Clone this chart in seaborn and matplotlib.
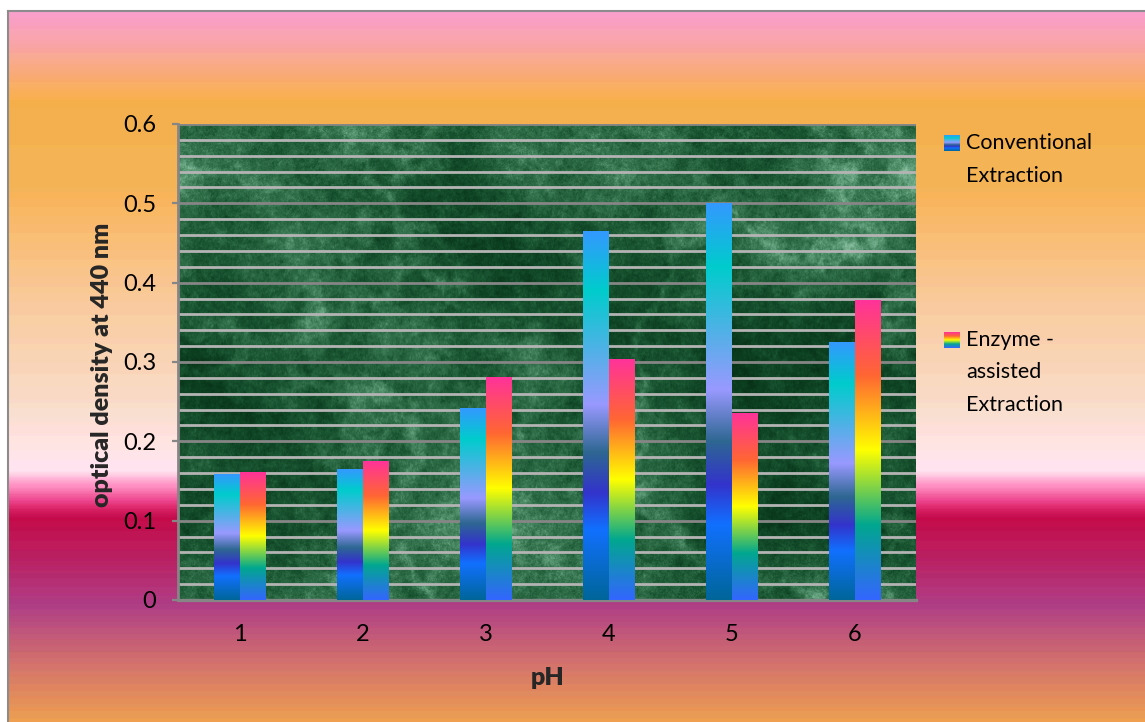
import numpy as np
import pandas as pd
import matplotlib
matplotlib.use("Agg")
import matplotlib.pyplot as plt
import seaborn as sns
from matplotlib.colors import LinearSegmentedColormap, to_rgb

# ---- data -------------------------------------------------------------
ph_levels = ["1", "2", "3", "4", "5", "6"]
conventional = [0.158, 0.165, 0.241, 0.465, 0.500, 0.325]
enzyme_assisted = [0.161, 0.175, 0.281, 0.303, 0.235, 0.377]
series_names = ["Conventional Extraction", "Enzyme - assisted Extraction"]
y_ticks = [0.0, 0.1, 0.2, 0.3, 0.4, 0.5, 0.6]
y_tick_labels = ["0", "0.1", "0.2", "0.3", "0.4", "0.5", "0.6"]

df = pd.DataFrame({
    "pH": ph_levels * 2,
    "series": [series_names[0]] * len(ph_levels) + [series_names[1]] * len(ph_levels),
    "od": conventional + enzyme_assisted,
})

# ---- styling ----------------------------------------------------------
sns.set_theme(style="white")
plt.rcParams["font.family"] = ["Lato", "DejaVu Sans"]

W_PX, H_PX = 1145, 722
fig = plt.figure(figsize=(W_PX / 100, H_PX / 100), dpi=100)
fig.patch.set_facecolor("white")


def fx(px):
    return px / W_PX


def fy(px):
    return 1 - px / H_PX


# preset-style gradients used for the bar fills
peacock = LinearSegmentedColormap.from_list("peacock", [
    (0.00, "#3399FF"), (0.16, "#00CCCC"), (0.47, "#9999FF"),
    (0.60, "#2E6792"), (0.71, "#3333CC"), (0.81, "#1170FF"), (1.00, "#006699")])
rainbow2 = LinearSegmentedColormap.from_list("rainbow2", [
    (0.00, "#FF3399"), (0.25, "#FF6633"), (0.50, "#FFFF00"),
    (0.75, "#01A78F"), (1.00, "#3366FF")])


def vertical_strip(cmap, n=256):
    return cmap(np.linspace(0, 1, n))[:, None, :3]


# ---- chart-area background gradient ------------------------------------
bg_stops = [
    (11, "#FB9ECE"), (45, "#F9A6A6"), (100, "#F7B04C"), (190, "#F7B458"),
    (300, "#F9CA9C"), (400, "#FCDCC8"), (462, "#FDE6EE"), (470, "#FEE4F0"),
    (476, "#FFC2DE"), (482, "#FFA0CA"), (488, "#FC84BA"), (494, "#F562A2"),
    (500, "#EE4690"), (506, "#E02C72"), (512, "#D0185A"), (518, "#C40C4B"),
    (560, "#BA2264"), (605, "#B03E86"), (665, "#D4746C"), (722, "#EEA050")]
rows = np.arange(11, H_PX)
stop_y = np.array([s[0] for s in bg_stops], dtype=float)
stop_rgb = np.array([to_rgb(s[1]) for s in bg_stops])
bg_col = np.stack([np.interp(rows, stop_y, stop_rgb[:, k]) for k in range(3)], axis=1)
# slight banding like a low-depth gradient render
bg_col = np.round(bg_col * 48) / 48
bg_img = bg_col[:, None, :]

bg = fig.add_axes([fx(8), 0, 1 - fx(8), fy(11)])
bg.set_zorder(-10)
bg.imshow(bg_img, aspect="auto", extent=[0, 1, 0, 1], interpolation="nearest")
bg.set_xticks([])
bg.set_yticks([])
for side in ["right", "bottom"]:
    bg.spines[side].set_visible(False)
for side in ["left", "top"]:
    bg.spines[side].set_color("#8C8C8C")
    bg.spines[side].set_linewidth(1.5)

# ---- plot area ---------------------------------------------------------
ax = fig.add_axes([fx(178), fy(600), fx(916 - 178), (600 - 124) / H_PX])
ax.patch.set_alpha(0)

sns.barplot(data=df, x="pH", y="od", hue="series", order=ph_levels,
            hue_order=series_names, palette=["#3399FF", "#FF3399"],
            width=0.41, gap=0, saturation=1, errorbar=None,
            legend=False, ax=ax)

# green marble texture behind the bars
tex_rng = np.random.default_rng(11)


def field(h, w, beta):
    white = tex_rng.standard_normal((h, w))
    ky = np.fft.fftfreq(h)[:, None]
    kx = np.fft.fftfreq(w)[None, :]
    k = np.sqrt(kx ** 2 + ky ** 2)
    k[0, 0] = 1.0
    spec = np.fft.fft2(white) / k ** beta
    spec[0, 0] = 0
    out = np.real(np.fft.ifft2(spec))
    return (out - out.mean()) / out.std()


TH, TW = 476, 738
cloud = field(TH, TW, 1.7)
mottle = field(TH, TW, 1.1)
vein_a = np.exp(-(field(TH, TW, 1.9) / 0.20) ** 2)
vein_b = np.exp(-(field(TH, TW, 1.7) / 0.28) ** 2)
grain = field(TH, TW, 0.6)
marble = (0.48 + 0.09 * cloud + 0.07 * mottle + 0.16 * vein_a
          + 0.09 * vein_b + 0.025 * grain)
marble = np.clip(marble, 0, 1)
marble_cmap = LinearSegmentedColormap.from_list("marble", [
    (0.0, "#042810"), (0.30, "#0D4122"), (0.48, "#1B5733"),
    (0.66, "#35744E"), (0.82, "#5A9874"), (1.0, "#8AC0A0")])
ax.imshow(marble_cmap(marble)[..., :3], extent=[-0.5, 5.5, 0, 0.6],
          aspect="auto", zorder=0.1, interpolation="bilinear")

# replace flat bar colours with vertical gradients
conv_rgb = to_rgb("#3399FF")
for p in list(ax.patches):
    h = p.get_height()
    if h <= 0:
        continue
    x0, w = p.get_x(), p.get_width()
    is_conv = np.allclose(p.get_facecolor()[:3], conv_rgb, atol=0.02)
    strip = vertical_strip(peacock if is_conv else rainbow2)
    ax.imshow(strip, extent=[x0, x0 + w, 0, h], aspect="auto",
              zorder=3, interpolation="bilinear")
    p.set_facecolor("none")
    p.set_edgecolor("none")

ax.set_xlim(-0.5, 5.5)
ax.set_ylim(0, 0.6)

# axes, ticks and grid
ax.set_yticks(y_ticks)
ax.set_yticklabels(y_tick_labels)
ax.set_yticks(np.arange(0, 0.6001, 0.02), minor=True)
ax.set_axisbelow(True)
ax.yaxis.grid(True, which="major", color="#868686", linewidth=2.0, zorder=0.5)
ax.yaxis.grid(True, which="minor", color="#B4B4B4", linewidth=2.0, zorder=0.5)
ax.xaxis.grid(False)
ax.tick_params(axis="y", which="major", left=True, length=4.5, width=1.6,
               color="#868686", pad=11, labelsize=17, labelcolor="black")
ax.tick_params(axis="y", which="minor", length=0)
ax.tick_params(axis="x", length=0, pad=17, labelsize=17, labelcolor="black")
for side in ["top", "right"]:
    ax.spines[side].set_visible(False)
ax.spines["left"].set_color("#868686")
ax.spines["left"].set_linewidth(2)
ax.spines["bottom"].set_color("#868686")
ax.spines["bottom"].set_linewidth(2.4)
ax.set_xlabel("")
ax.set_ylabel("")

fig.text(fx(102), fy(365), "optical density at 440 nm", rotation=90,
         ha="center", va="center", fontsize=18, fontweight="heavy")
fig.text(fx(548), fy(678), "pH", ha="center", va="center",
         fontsize=18, fontweight="heavy")

# ---- legend ------------------------------------------------------------
legend_entries = [
    (peacock, 135, ["Conventional", "Extraction"], 143),
    (rainbow2, 332, ["Enzyme -", "assisted", "Extraction"], 340),
]
for cmap, sq_top, lines, first_line in legend_entries:
    sq = fig.add_axes([fx(944), fy(sq_top + 16), fx(16), 16 / H_PX])
    sq.imshow(vertical_strip(cmap, 64), aspect="auto", interpolation="bilinear")
    sq.set_axis_off()
    for i, line in enumerate(lines):
        fig.text(fx(966), fy(first_line + 32.5 * i), line, ha="left",
                 va="center", fontsize=15.5, color="black")

fig.savefig("out.png", dpi=100)
